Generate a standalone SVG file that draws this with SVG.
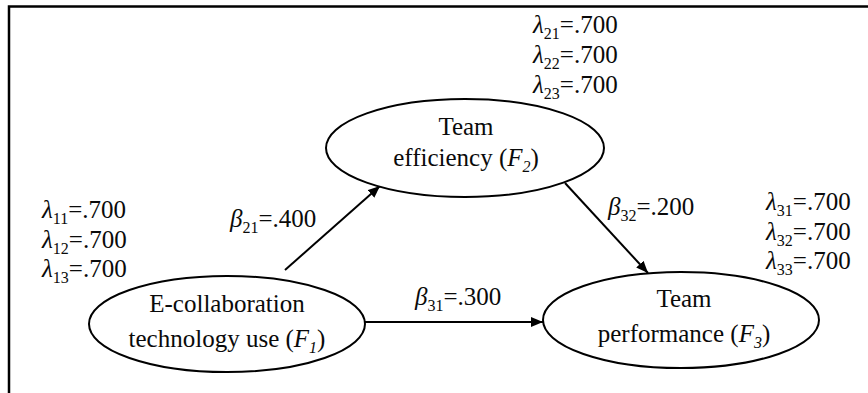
<svg xmlns="http://www.w3.org/2000/svg" width="868" height="393" viewBox="0 0 868 393">
<style>
  text { font-family: "Liberation Serif", "Times New Roman", serif; font-size: 25px; fill: #0a0a0a; }
  .node { fill: #fff; stroke: #000; stroke-width: 2; }
  .edge { stroke: #000; stroke-width: 2; fill: none; marker-end: url(#arr); }
  .frame { stroke: #000; stroke-width: 2.5; fill: none; }
  .g { font-style: italic; }
  .s { font-size: 16px; }
  .si { font-size: 16px; font-style: italic; }
</style>
<defs>
  <marker id="arr" markerUnits="userSpaceOnUse" markerWidth="14" markerHeight="12" refX="12" refY="5" orient="auto">
    <path d="M0,0 L12,5 L0,10 z" fill="#000"/>
  </marker>
</defs>
<rect width="868" height="393" fill="#fff"/>
<path class="frame" d="M9,393 V6.5 H868"/>

<g id="connectors">
  <line class="edge" x1="285" y1="270" x2="380" y2="186"/>
  <line class="edge" x1="365" y1="322" x2="543" y2="322"/>
  <line class="edge" x1="565" y1="183" x2="648" y2="273"/>
</g>

<g font-family="Liberation Serif">
<g id="node-f1">
  <ellipse class="node" cx="227" cy="324" rx="138" ry="48"/>
  <text x="227" y="312" text-anchor="middle">E-collaboration</text>
  <text x="227" y="347" text-anchor="middle">technology use (<tspan class="g">F</tspan><tspan class="si" dy="6">1</tspan><tspan dy="-6">)</tspan></text>
</g>
<g id="node-f2">
  <ellipse class="node" cx="465" cy="148" rx="139" ry="49"/>
  <text x="466" y="135" text-anchor="middle">Team</text>
  <text x="466" y="166" text-anchor="middle">efficiency (<tspan class="g">F</tspan><tspan class="si" dy="6">2</tspan><tspan dy="-6">)</tspan></text>
</g>
<g id="node-f3">
  <ellipse class="node" cx="681" cy="320" rx="138" ry="48"/>
  <text x="684" y="307" text-anchor="middle">Team</text>
  <text x="684" y="342" text-anchor="middle">performance (<tspan class="g">F</tspan><tspan class="si" dy="6">3</tspan><tspan dy="-6">)</tspan></text>
</g>

<g id="labels">
  <text x="42" y="218"><tspan class="g">λ</tspan><tspan class="s" dy="6">11</tspan><tspan dy="-6">=.700</tspan></text>
  <text x="42" y="248"><tspan class="g">λ</tspan><tspan class="s" dy="6">12</tspan><tspan dy="-6">=.700</tspan></text>
  <text x="42" y="277"><tspan class="g">λ</tspan><tspan class="s" dy="6">13</tspan><tspan dy="-6">=.700</tspan></text>

  <text x="533" y="33"><tspan class="g">λ</tspan><tspan class="s" dy="6">21</tspan><tspan dy="-6">=.700</tspan></text>
  <text x="533" y="63"><tspan class="g">λ</tspan><tspan class="s" dy="6">22</tspan><tspan dy="-6">=.700</tspan></text>
  <text x="533" y="93"><tspan class="g">λ</tspan><tspan class="s" dy="6">23</tspan><tspan dy="-6">=.700</tspan></text>

  <text x="766" y="210"><tspan class="g">λ</tspan><tspan class="s" dy="6">31</tspan><tspan dy="-6">=.700</tspan></text>
  <text x="766" y="240"><tspan class="g">λ</tspan><tspan class="s" dy="6">32</tspan><tspan dy="-6">=.700</tspan></text>
  <text x="766" y="269"><tspan class="g">λ</tspan><tspan class="s" dy="6">33</tspan><tspan dy="-6">=.700</tspan></text>

  <text x="230" y="227"><tspan class="g">β</tspan><tspan class="s" dy="6">21</tspan><tspan dy="-6">=.400</tspan></text>
  <text x="415" y="305"><tspan class="g">β</tspan><tspan class="s" dy="6">31</tspan><tspan dy="-6">=.300</tspan></text>
  <text x="608" y="215"><tspan class="g">β</tspan><tspan class="s" dy="6">32</tspan><tspan dy="-6">=.200</tspan></text>
</g>
</g>
</svg>
